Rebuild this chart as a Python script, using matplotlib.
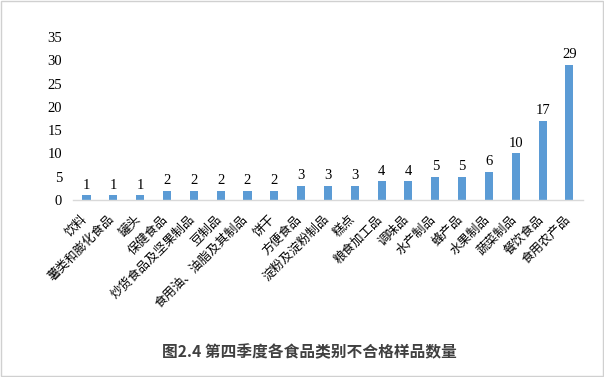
import matplotlib
matplotlib.use("Agg")
import matplotlib.pyplot as plt
from matplotlib.patches import Rectangle
from matplotlib.transforms import ScaledTranslation

categories = ["饮料", "薯类和膨化食品", "罐头", "保健食品", "炒货食品及坚果制品", "豆制品",
              "食用油、油脂及其制品", "饼干", "方便食品", "淀粉及淀粉制品", "糕点", "粮食加工品",
              "调味品", "水产制品", "蜂产品", "水果制品", "蔬菜制品", "餐饮食品", "食用农产品"]
values = [1, 1, 1, 2, 2, 2, 2, 2, 3, 3, 3, 4, 4, 5, 5, 6, 10, 17, 29]
yticks = [0, 5, 10, 15, 20, 25, 30, 35]
title = "图2.4 第四季度各食品类别不合格样品数量"

fig = plt.figure(figsize=(6.04, 3.77), dpi=100)
ax = fig.add_axes([0.121, 0.4695, 0.844, 0.4325])

x = list(range(len(categories)))
ax.bar(x, values, width=0.3, color="#5b9bd5", zorder=2)
for xi, v in zip(x, values):
    ax.text(xi, v + 0.8, str(v), ha="center", va="bottom",
            fontsize=10.5, family=["Liberation Serif"], color="black")

ax.set_xlim(-0.5, len(categories) - 0.5)
ax.set_ylim(0, 35)
ax.set_yticks(yticks)
ax.set_yticklabels([str(t) for t in yticks], family=["Liberation Serif"], fontsize=10.5)
ax.tick_params(axis="y", length=0, pad=8)
ax.set_xticks(x)
ax.set_xticklabels(categories, rotation=45, ha="right", va="top", rotation_mode="anchor",
                   family=["Noto Sans CJK SC", "DejaVu Sans"], fontsize=9)
ax.tick_params(axis="x", length=0, pad=9)
offset = ScaledTranslation(-6 / 100, 0, fig.dpi_scale_trans)
for lab in ax.get_xticklabels():
    lab.set_transform(lab.get_transform() + offset)
for s in ["top", "right", "left"]:
    ax.spines[s].set_visible(False)
ax.spines["bottom"].set_color("#d9d9d9")
ax.spines["bottom"].set_linewidth(1)

fig.text(0.513, 0.066, title, ha="center", va="center", fontsize=11.3, fontweight="bold",
         color="#404040", family=["Noto Sans CJK SC", "DejaVu Sans"])

fig.patches.append(Rectangle((0.001, 0.003), 0.997, 0.994, transform=fig.transFigure,
                             fill=False, edgecolor="#d0d0d0", linewidth=1))

fig.savefig("out.png", dpi=100)
